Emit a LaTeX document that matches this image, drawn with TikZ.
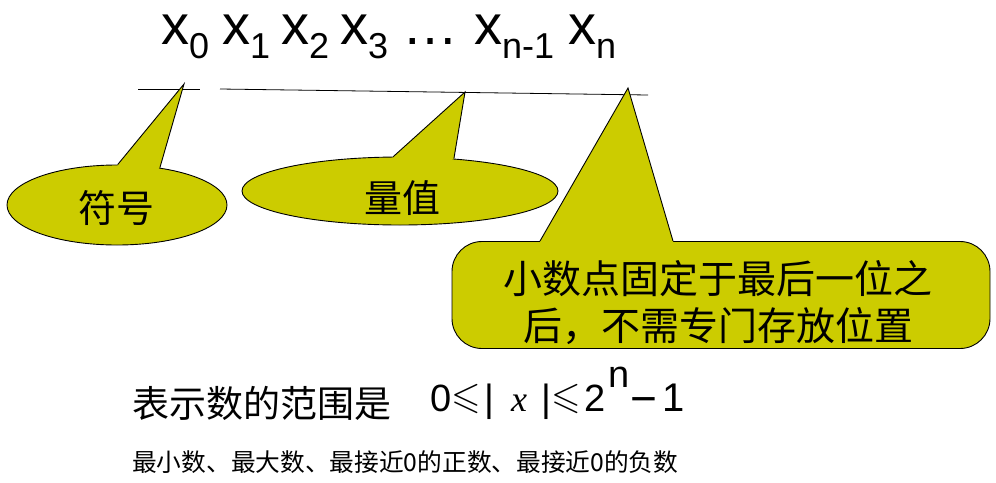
\documentclass[tikz,border=0pt]{standalone}
\usepackage{fontspec}
\usepackage{amssymb}
\setmainfont{Liberation Sans}
\newfontfamily\cjk{Noto Sans CJK SC}
\newfontfamily\serifit{Liberation Serif}
\usetikzlibrary{shapes.geometric,calc}
\definecolor{callfill}{HTML}{CCCC00}
\newcommand\fs[1]{\fontsize{#1}{#1}\selectfont}
\tikzset{
  bubble/.style={draw=black, fill=callfill, line width=0.9pt, inner sep=0pt},
  bline/.style={draw=black, line width=0.9pt, line join=miter},
  rule/.style={draw=black, line width=0.8pt},
  lbl/.style={anchor=base west, inner sep=0pt},
  cjklbl/.style={inner sep=0pt, font=\cjk},
}
\begin{document}
\begin{tikzpicture}[x=1pt,y=-1pt]
\useasboundingbox (0,0) rectangle (996,482);

% top bit labels
\node[lbl] (x0) at (161,44) {\fs{56}x\raisebox{-14pt}{\fs{36}0}};
\node[lbl] (x1) at (222,44) {\fs{56}x\raisebox{-14pt}{\fs{36}1}};
\node[lbl] (x2) at (281,44) {\fs{56}x\raisebox{-14pt}{\fs{36}2}};
\node[lbl] (x3) at (340,44) {\fs{56}x\raisebox{-14pt}{\fs{36}3}};
\node[lbl] (dots) at (402,44) {\fs{56}…};
\node[lbl] (xn1) at (474,44) {\fs{56}x\raisebox{-14pt}{\fs{36}n-1}};
\node[lbl] (xn) at (568,44) {\fs{56}x\raisebox{-14pt}{\fs{36}n}};

% under-lines
\coordinate (la) at (138,89);
\coordinate (lb) at (200,89);
\coordinate (lc) at (220,89);
\coordinate (ld) at (648,95);
\draw[rule] (la) -- (lb);
\draw[rule] (lc) -- (ld);

% callout 1: sign
\node[bubble, ellipse, minimum width=220pt, minimum height=80pt] (e1) at (117,205) {};
\coordinate (t1) at (184,84);
\fill[callfill] (t1) -- (e1.89) -- (e1.center) -- (e1.41) -- cycle;
\draw[bline] (e1.89) -- (t1) -- (e1.41);
\node[cjklbl, font=\cjk\fs{38}] (l1) at (116,208) {符号};

% callout 2: magnitude
\node[bubble, ellipse, minimum width=316pt, minimum height=68pt] (e2) at (400,191) {};
\coordinate (t2) at (465,92);
\fill[callfill] (t2) -- (e2.101) -- (e2.center) -- (e2.31) -- cycle;
\draw[bline] (e2.101) -- (t2) -- (e2.31);
\node[cjklbl, font=\cjk\fs{38}] (l2) at (402,198) {量值};

% callout 3: decimal point
\node[bubble, rectangle, rounded corners=30pt, minimum width=538pt, minimum height=107pt] (r3) at (721,295) {};
\coordinate (t3) at (628,88);
\coordinate (b1) at ($(r3.north)+(-181,0)$);
\coordinate (b2) at ($(r3.north)+(-48,0)$);
\fill[callfill] (t3) -- (b1) -- ($(b1)+(0,15)$) -- ($(b2)+(0,15)$) -- (b2) -- cycle;
\draw[bline] (b1) -- (t3) -- (b2);
\node[cjklbl, align=center, font=\cjk\fontsize{39}{47}\selectfont] (l3) at (718,303) {小数点固定于最后一位之\\后，不需专门存放位置};

% range line
\node[cjklbl, anchor=west, font=\cjk\fs{37}] (rng) at (132,403) {表示数的范围是};
\node[lbl] (f0) at (430,411) {\fs{38}0};
\node[lbl] (f1) at (451,408) {\fs{38}$\leqslant$};
\node[lbl] (f2) at (484,411) {\fs{38}|};
\node[lbl] (f3) at (511,411) {\serifit\itshape\fs{36}x};
\node[lbl] (f4) at (541,411) {\fs{38}|};
\node[lbl] (f5) at (551,408) {\fs{38}$\leqslant$};
\node[lbl] (f6) at (584,411) {\fs{38}2};
\node[lbl] (f7) at (608,387) {\fs{38}n};
\node[lbl] (f8) at (630,414) {\fs{46}−};
\node[lbl] (f9) at (662,411) {\fs{40}1};

% note line
\node[cjklbl, anchor=west, font=\cjk\fs{24.7}] (note) at (132,462.5) {最小数、最大数、最接近0的正数、最接近0的负数};
\end{tikzpicture}
\end{document}
